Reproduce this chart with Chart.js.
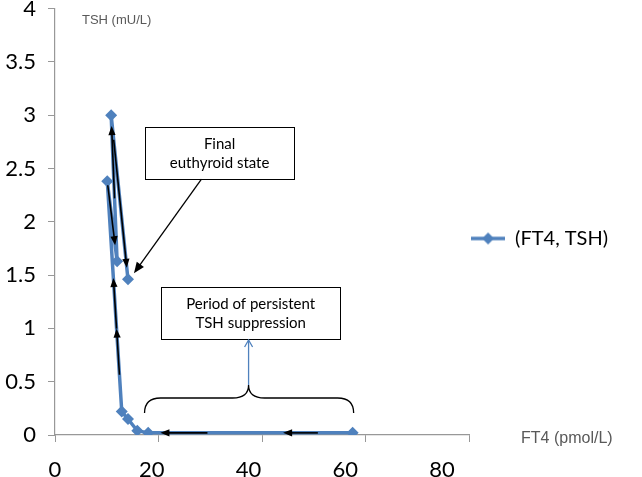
<html>
<head>
  <title>FT4 vs TSH</title>
  <script src="https://cdn.jsdelivr.net/npm/chart.js"></script>
  <style>
    body { margin: 0; background: #fff; }
    #wrap { width: 642px; height: 477px; }
  </style>
</head>
<body>
  <div id="wrap"><canvas id="Chart"></canvas></div>
  <script>
// FT4 (pmol/L) and TSH (mU/L), in time order
const ft4 = [57.5, 18.0, 15.9, 14.1, 12.9, 10.1, 12.0, 10.85, 14.1];
const tsh = [0.02, 0.02, 0.04, 0.15, 0.22, 2.38, 1.63, 3.0, 1.46];
const seriesName = '(FT4, TSH)';
const xTicks = [0, 20, 40, 60, 80];
const yTicks = [0, 0.5, 1, 1.5, 2, 2.5, 3, 3.5, 4];
const xTitle = 'FT4 (pmol/L)';
const yTitle = 'TSH (mU/L)';

// black arrows showing time direction: [segment, from, to] (fraction along segment)
const pathArrows = [[0, 0.17, 0.34], [0, 0.71, 0.94], [4, 0.16, 0.36], [4, 0.36, 0.58],
                    [5, 0.05, 0.80], [6, 0.43, 0.925], [7, 0.15, 0.93]];

// text boxes, in data units
const notes = [
  { lines: ['Final', 'euthyroid state'], x0: 17.4, x1: 46.2, y0: 2.40, y1: 2.886 },
  { lines: ['Period of persistent', 'TSH suppression'], x0: 20.5, x1: 55.1, y0: 0.90, y1: 1.385 }
];
const brace = { x0: 17.3, x1: 57.7, mid: 37.4, tip: 0.206, bar: 0.347, top: 0.469 };

const blue = '#4F81BD';
const grey = '#989898';

// legend icon: line with a diamond
const legendIcon = document.createElement('canvas');
legendIcon.width = 34; legendIcon.height = 14;
const ic = legendIcon.getContext('2d');
ic.strokeStyle = blue; ic.lineWidth = 3.5;
ic.beginPath(); ic.moveTo(0, 7); ic.lineTo(34, 7); ic.stroke();
ic.fillStyle = blue;
ic.beginPath(); ic.moveTo(17, 1); ic.lineTo(23, 7); ic.lineTo(17, 13); ic.lineTo(11, 7); ic.closePath(); ic.fill();

function arrow(ctx, x0, y0, x1, y1, size) {
  const a = Math.atan2(y1 - y0, x1 - x0);
  const c = Math.cos(a), s = Math.sin(a);
  ctx.beginPath(); ctx.moveTo(x0, y0); ctx.lineTo(x1 - c * size * 0.8, y1 - s * size * 0.8); ctx.stroke();
  ctx.beginPath(); ctx.moveTo(x1, y1);
  ctx.lineTo(x1 - size * c + size * 0.4 * s, y1 - size * s - size * 0.4 * c);
  ctx.lineTo(x1 - size * c - size * 0.4 * s, y1 - size * s + size * 0.4 * c);
  ctx.closePath(); ctx.fill();
}

const notesPlugin = {
  id: 'notes',
  afterDatasetsDraw(chart) {
    const { ctx, chartArea, scales: { x, y } } = chart;
    const px = v => x.getPixelForValue(v), py = v => y.getPixelForValue(v);
    ctx.save();

    // time arrows on the path
    ctx.strokeStyle = '#000'; ctx.fillStyle = '#000'; ctx.lineWidth = 1.6;
    pathArrows.forEach(([i, t0, t1]) => {
      const ax = px(ft4[i]), ay = py(tsh[i]), bx = px(ft4[i + 1]), by = py(tsh[i + 1]);
      arrow(ctx, ax + (bx - ax) * t0, ay + (by - ay) * t0, ax + (bx - ax) * t1, ay + (by - ay) * t1, 9);
    });

    // boxes
    ctx.lineWidth = 1; ctx.strokeStyle = '#000';
    ctx.font = '15px Lato'; ctx.textAlign = 'center'; ctx.textBaseline = 'middle';
    notes.forEach(n => {
      const l = px(n.x0), r = px(n.x1), t = py(n.y1), b = py(n.y0);
      ctx.fillStyle = '#fff'; ctx.fillRect(l, t, r - l, b - t);
      ctx.strokeRect(Math.round(l) + 0.5, Math.round(t) + 0.5, Math.round(r - l), Math.round(b - t));
      ctx.fillStyle = '#000';
      const cy = (t + b) / 2;
      n.lines.forEach((s, k) => ctx.fillText(s, (l + r) / 2, cy + (k - (n.lines.length - 1) / 2) * 19));
    });

    // arrow from first box to last point
    const n0 = notes[0];
    const sx = px(28.3), sy = py(n0.y0);
    const ex = px(ft4[8]), ey = py(tsh[8]);
    const d = Math.hypot(ex - sx, ey - sy);
    ctx.lineWidth = 1.3;
    arrow(ctx, sx, sy, ex - (ex - sx) / d * 5 + 3, ey - (ey - sy) / d * 5 - 2, 11);

    // brace
    const L = px(brace.x0), R = px(brace.x1), C = px(brace.mid);
    const yt = py(brace.tip), yb = py(brace.bar), yc = py(brace.top);
    ctx.lineWidth = 1.3;
    ctx.beginPath();
    ctx.moveTo(L, yt); ctx.quadraticCurveTo(L, yb, L + 16, yb);
    ctx.lineTo(C - 16, yb); ctx.quadraticCurveTo(C, yb, C, yc);
    ctx.quadraticCurveTo(C, yb, C + 16, yb);
    ctx.lineTo(R - 16, yb); ctx.quadraticCurveTo(R, yb, R, yt);
    ctx.stroke();

    // blue arrow up to second box
    const n1 = notes[1];
    const by1 = py(n1.y0) + 1;
    ctx.strokeStyle = blue; ctx.lineWidth = 1.3;
    ctx.beginPath(); ctx.moveTo(C, yc); ctx.lineTo(C, by1); ctx.stroke();
    ctx.beginPath(); ctx.moveTo(C - 4, by1 + 7); ctx.lineTo(C, by1); ctx.lineTo(C + 4, by1 + 7); ctx.stroke();

    // axis titles
    ctx.fillStyle = '#595959'; ctx.textAlign = 'left';
    ctx.font = '13px "Liberation Sans"';
    ctx.fillText(yTitle, chartArea.left + 27, 20);
    ctx.font = '16px "Liberation Sans"';
    ctx.fillText(xTitle, chartArea.right + 52, chartArea.bottom + 4);
    ctx.restore();
  }
};

const config = {
  type: 'scatter',
  data: {
    datasets: [{
      label: seriesName,
      data: ft4.map((v, i) => ({ x: v, y: tsh[i] })),
      showLine: true,
      borderColor: blue,
      borderWidth: 3.5,
      backgroundColor: blue,
      pointStyle: 'rectRot',
      pointRadius: 6,
      pointBackgroundColor: blue,
      pointBorderColor: blue,
      pointBorderWidth: 0
    }]
  },
  options: {
    responsive: true,
    maintainAspectRatio: false,
    animation: false,
    layout: { padding: { left: 0, top: 0, bottom: 0, right: 24 } },
    scales: {
      x: {
        type: 'linear', position: 'bottom', min: 0, max: 80,
        afterBuildTicks: s => { s.ticks = xTicks.map(v => ({ value: v })); },
        afterFit: s => { s.height = 7; },
        ticks: { display: false },
        grid: { drawOnChartArea: false, tickLength: 7, color: grey },
        border: { color: grey, width: 1.2 }
      },
      x2: {
        type: 'linear', position: 'bottom', weight: 1, min: 0, max: 85.6,
        afterBuildTicks: s => { s.ticks = xTicks.map(v => ({ value: v })); },
        afterFit: s => { s.height = 35; },
        ticks: { color: '#000', font: { family: 'Lato', size: 22 }, padding: 7, maxRotation: 0 },
        grid: { display: false },
        border: { display: false }
      },
      y: {
        min: 0, max: 4,
        afterBuildTicks: s => { s.ticks = yTicks.map(v => ({ value: v })); },
        afterFit: s => { s.width = 55; s.paddingTop = 8.5; s.paddingBottom = 0; },
        ticks: {
          color: '#000', font: { family: 'Lato', size: 22, lineHeight: 0.7 }, padding: 12,
          callback: v => String(v)
        },
        grid: { drawOnChartArea: false, tickLength: 7, color: grey },
        border: { color: grey, width: 1.2 }
      }
    },
    plugins: {
      legend: {
        position: 'right',
        labels: {
          color: '#000',
          font: { family: 'Lato', size: 20 },
          usePointStyle: true,
          pointStyle: legendIcon,
          pointStyleWidth: 34,
          padding: 2
        }
      },
      tooltip: { enabled: false }
    }
  },
  plugins: [notesPlugin]
};

const chart = new Chart(document.getElementById('Chart').getContext('2d'), config);
  </script>
</body>
</html>
